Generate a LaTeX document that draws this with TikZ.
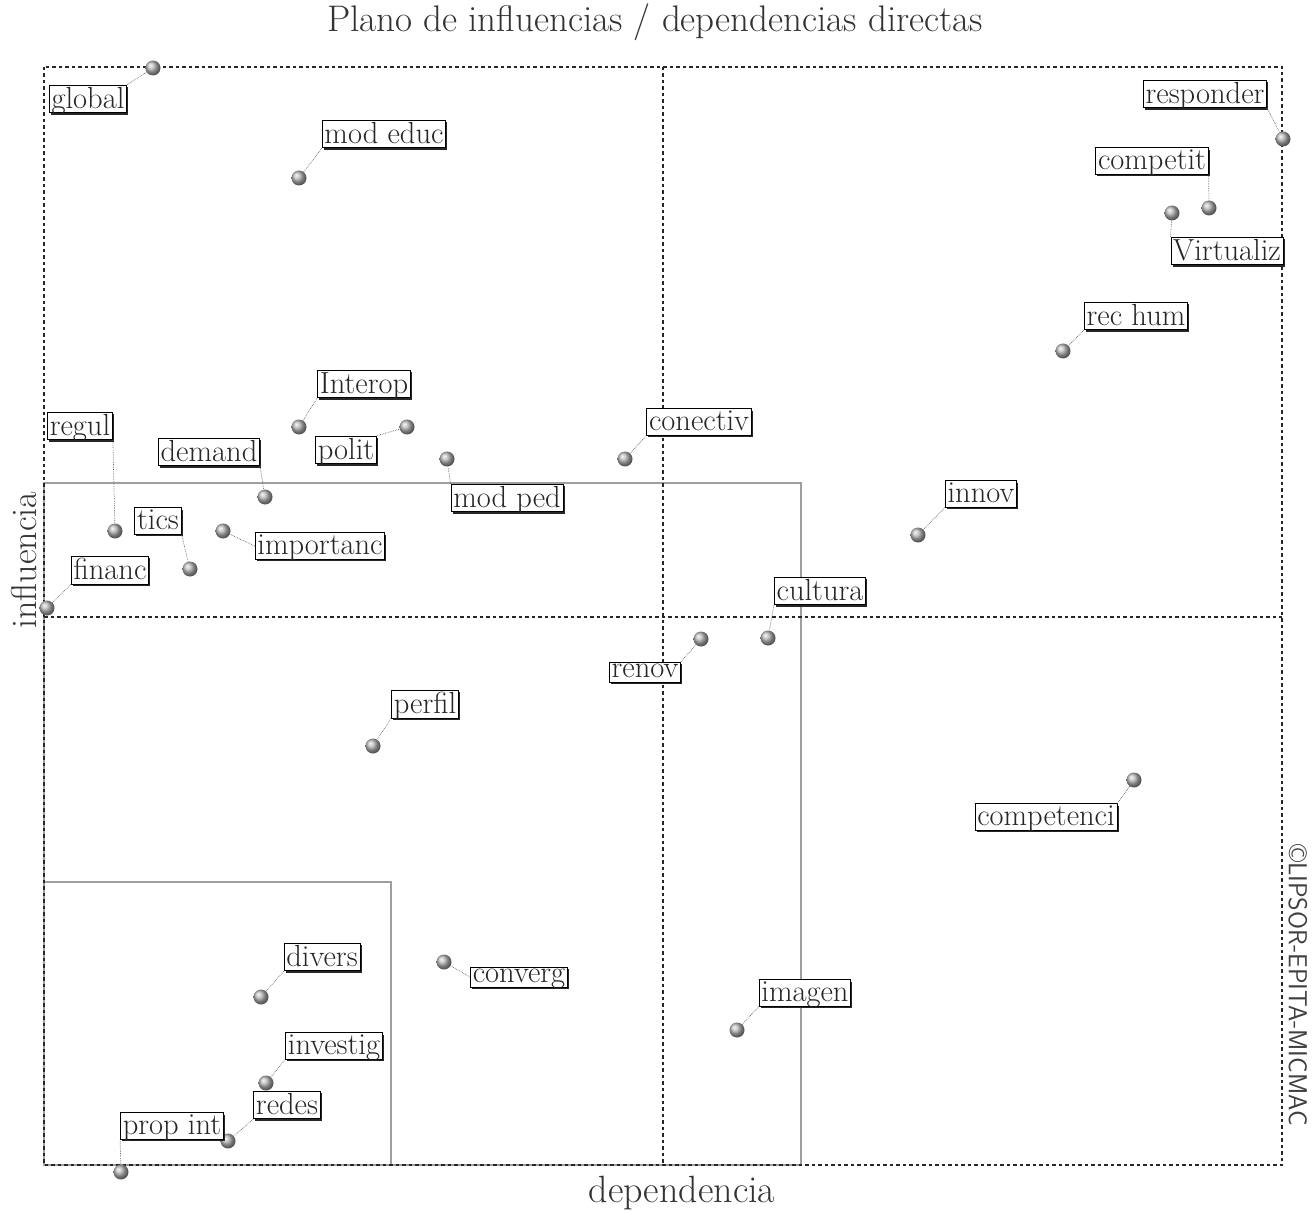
\documentclass[tikz,border=0pt]{standalone}
\usetikzlibrary{shadows,shapes.geometric}
\begin{document}
\begin{tikzpicture}[x=1pt,y=-1pt,
  lab/.style={draw=black, line width=0.8pt, fill=white, inner sep=2.3pt, text depth=0.2em, text=black!85,
    font=\fontsize{30.5}{32}\selectfont,
    drop shadow={shadow xshift=1.6pt, shadow yshift=-1.8pt, fill=black!85, opacity=1}},
  dot/.style={circle, minimum size=15pt, inner sep=0pt, shading=ball, ball color=gray!55},
  conn/.style={gray!80!black, line width=0.7pt, densely dotted},
  grid/.style={black!85, line width=1.4pt, dash pattern=on 3.5pt off 3pt},
  zone/.style={gray!75, line width=1.6pt},
  axis/.style={text=black!80}
]
\useasboundingbox (0,0) rectangle (1314,1214);
% zones
\draw[zone] (44,483) rectangle (801,1165);
\draw[zone] (44,882) rectangle (391,1165);
% dashed frame and midlines
\draw[grid] (44,67) rectangle (1282,1165);
\draw[grid] (663,67) -- (663,1165);
\draw[grid] (44,617) -- (1282,617);
% texts
\node[axis, font=\fontsize{37}{40}\selectfont] (title) at (655,22) {Plano de influencias / dependencias directas};
\node[axis, rotate=90, font=\fontsize{36}{40}\selectfont] (yl) at (24,560) {influencia};
\node[axis, font=\fontsize{38}{40}\selectfont] (xl) at (682,1193) {dependencia};
\node[rotate=-90, font=\sffamily\fontsize{26}{28}\selectfont, text=black!75] (copy) at (1298,985) {\textcopyright LIPSOR-EPITA-MICMAC};
% dots
\node[dot] (dglobal) at (153,68) {};
\node[dot] (dmodeduc) at (299,178) {};
\node[dot] (dresponder) at (1283,139) {};
\node[dot] (dcompetit) at (1209,208) {};
\node[dot] (dvirtualiz) at (1172,213) {};
\node[dot] (drechum) at (1063,351) {};
\node[dot] (dinterop) at (299,427) {};
\node[dot] (dpolit) at (407,427) {};
\node[dot] (dmodped) at (447,459) {};
\node[dot] (dconectiv) at (625,459) {};
\node[dot] (dregul) at (115,531) {};
\node[dot] (ddemand) at (265,497) {};
\node[dot] (dtics) at (190,569) {};
\node[dot] (dfinanc) at (47,608) {};
\node[dot] (dimportanc) at (223,531) {};
\node[dot] (dinnov) at (918,535) {};
\node[dot] (dcultura) at (768,638) {};
\node[dot] (drenov) at (701,639) {};
\node[dot] (dperfil) at (373,746) {};
\node[dot] (dcompetenci) at (1134,780) {};
\node[dot] (ddivers) at (261,997) {};
\node[dot] (dconverg) at (444,962) {};
\node[dot] (dimagen) at (737,1030) {};
\node[dot] (dinvestig) at (266,1083) {};
\node[dot] (dredes) at (228,1141) {};
\node[dot] (dpropint) at (121,1172) {};
% labels
\node[lab] (lglobal) at (88,99) {global};
\node[lab] (lmodeduc) at (384,134) {mod educ};
\node[lab] (lresponder) at (1205,94) {responder};
\node[lab] (lcompetit) at (1152,161) {competit};
\node[lab] (lvirtualiz) at (1227,251) {Virtualiz};
\node[lab] (lrechum) at (1136,316) {rec hum};
\node[lab] (linterop) at (364,384) {Interop};
\node[lab] (lpolit) at (346,450) {polit};
\node[lab] (lmodped) at (507,498) {mod ped};
\node[lab] (lconectiv) at (699,422) {conectiv};
\node[lab] (lregul) at (80,426) {regul};
\node[lab] (ldemand) at (209,452) {demand};
\node[lab] (ltics) at (158,521) {tics};
\node[lab] (lfinanc) at (110,570) {financ};
\node[lab] (limportanc) at (320,546) {importanc};
\node[lab] (linnov) at (981,494) {innov};
\node[lab] (lcultura) at (820,591) {cultura};
\node[lab] (lrenov) at (645,672) {renov};
\node[lab] (lperfil) at (425,704) {perfil};
\node[lab] (lcompetenci) at (1046,817) {competenci};
\node[lab] (ldivers) at (322,957) {divers};
\node[lab] (lconverg) at (519,977) {converg};
\node[lab] (limagen) at (805,993) {imagen};
\node[lab] (linvestig) at (334,1046) {investig};
\node[lab] (lredes) at (287,1105) {redes};
\node[lab] (lpropint) at (172,1126) {prop int};
% connectors
\draw[conn] (lglobal.north east) -- (dglobal);
\draw[conn] (lmodeduc.south west) -- (dmodeduc);
\draw[conn] (lresponder.south east) -- (dresponder);
\draw[conn] (lcompetit.south east) -- (dcompetit);
\draw[conn] (lvirtualiz.north west) -- (dvirtualiz);
\draw[conn] (lrechum.south west) -- (drechum);
\draw[conn] (linterop.south west) -- (dinterop);
\draw[conn] (lpolit.north east) -- (dpolit);
\draw[conn] (lmodped.north west) -- (dmodped);
\draw[conn] (lconectiv.south west) -- (dconectiv);
\draw[conn] (lregul.south east) -- (dregul);
\draw[conn] (ldemand.south east) -- (ddemand);
\draw[conn] (ltics.south east) -- (dtics);
\draw[conn] (lfinanc.south west) -- (dfinanc);
\draw[conn] (limportanc.west) -- (dimportanc);
\draw[conn] (linnov.south west) -- (dinnov);
\draw[conn] (lcultura.south west) -- (dcultura);
\draw[conn] (lrenov.north east) -- (drenov);
\draw[conn] (lperfil.south west) -- (dperfil);
\draw[conn] (lcompetenci.north east) -- (dcompetenci);
\draw[conn] (ldivers.south west) -- (ddivers);
\draw[conn] (lconverg.west) -- (dconverg);
\draw[conn] (limagen.south west) -- (dimagen);
\draw[conn] (linvestig.south west) -- (dinvestig);
\draw[conn] (lredes.south west) -- (dredes);
\draw[conn] (lpropint.south west) -- (dpropint);
\end{tikzpicture}
\end{document}
